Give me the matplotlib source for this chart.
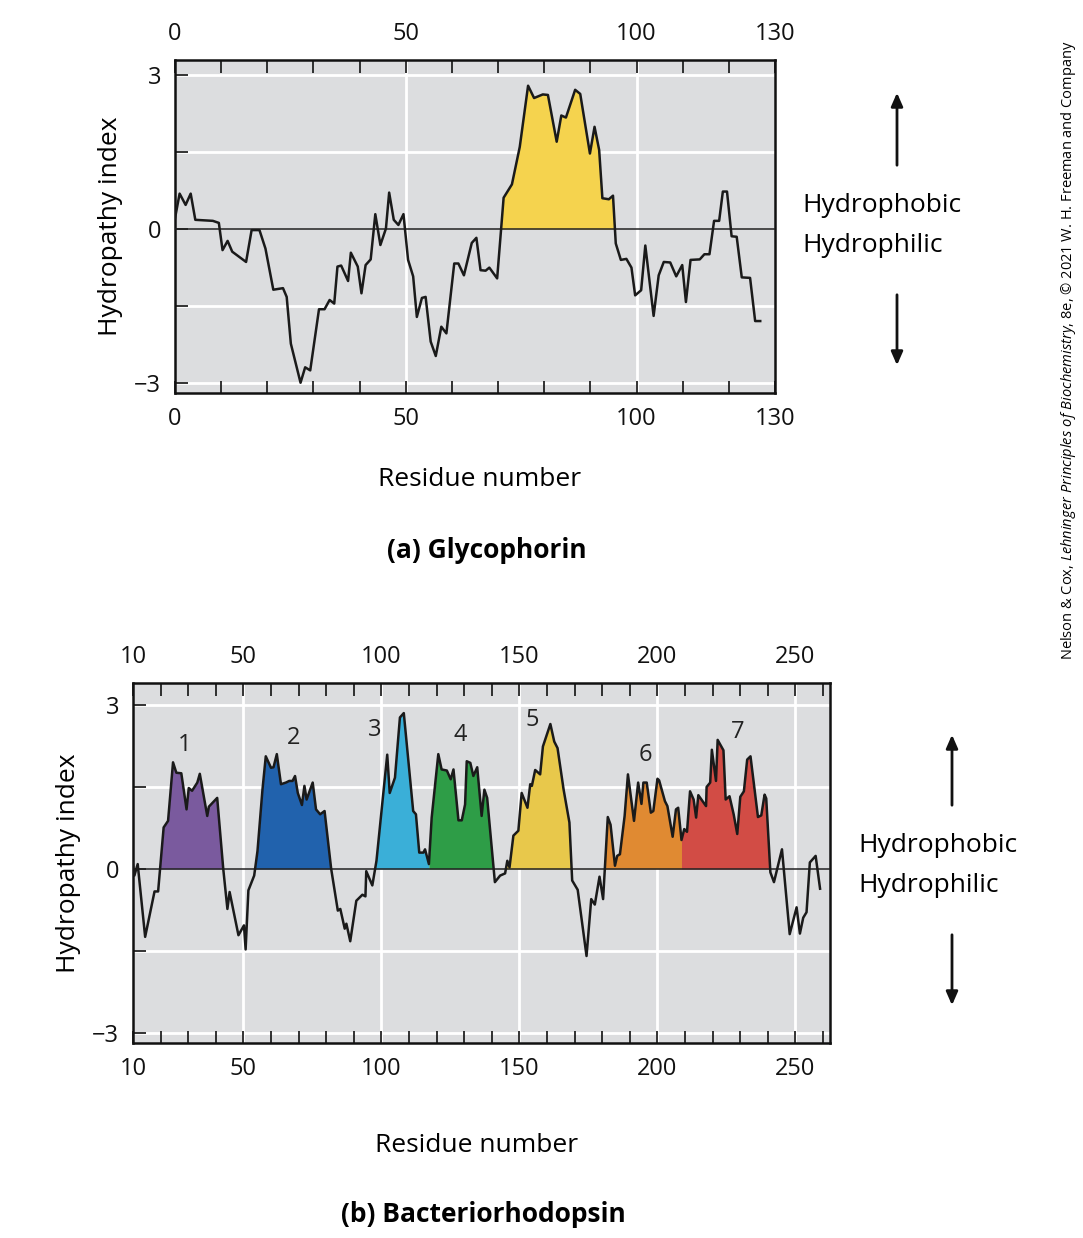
import numpy as np
import matplotlib
matplotlib.use("Agg")
import matplotlib.pyplot as plt
from matplotlib.ticker import MultipleLocator

plt.rcParams['font.family'] = ['Open Sans', 'DejaVu Sans']
plt.rcParams['mathtext.fontset'] = 'custom'
plt.rcParams['mathtext.it'] = 'Open Sans:italic'
plt.rcParams['mathtext.rm'] = 'Open Sans'

# glycophorin hydropathy profile
glyco_res = [0, 1.0, 2.3, 3.4, 4.4, 8.2, 9.5, 10.3, 11.4, 12.4, 15.4, 16.6, 18.3, 19.6, 21.3,
             23.4, 24.2, 25.1, 27.2, 28.2, 29.3, 31.2, 32.4, 33.5, 34.5, 35.2, 36.0, 37.5, 38.1,
             39.6, 40.4, 41.3, 42.4, 43.4, 44.5, 45.7, 46.4, 47.4, 48.4, 49.5, 50.5, 51.6, 52.4,
             53.5, 54.3, 55.4, 56.5, 57.7, 58.8, 60.5, 61.4, 62.6, 64.3, 65.3, 66.2, 67.3, 68.1,
             69.8, 71.2, 73.0, 74.7, 76.5, 77.8, 79.7, 80.8, 82.7, 83.7, 84.7, 86.7, 87.8, 89.9,
             90.9, 91.9, 92.6, 94.0, 94.9, 95.5, 96.6, 97.8, 98.9, 99.7, 101.0, 101.9, 103.7,
             104.8, 105.9, 107.3, 108.6, 109.9, 110.7, 111.7, 113.7, 114.7, 115.8, 116.8, 117.9,
             118.7, 119.6, 120.6, 121.7, 122.8, 124.6, 125.7, 126.8]
glyco_val = [0.21, 0.69, 0.47, 0.69, 0.18, 0.16, 0.12, -0.41, -0.23, -0.44, -0.64, -0.02, -0.02,
             -0.38, -1.18, -1.15, -1.32, -2.23, -2.99, -2.69, -2.75, -1.56, -1.56, -1.38, -1.45,
             -0.73, -0.71, -1.01, -0.46, -0.73, -1.25, -0.70, -0.59, 0.29, -0.31, 0.01, 0.71,
             0.18, 0.08, 0.29, -0.60, -0.92, -1.71, -1.34, -1.32, -2.19, -2.47, -1.90, -2.03,
             -0.67, -0.67, -0.90, -0.27, -0.17, -0.80, -0.81, -0.75, -0.96, 0.61, 0.87, 1.60,
             2.79, 2.55, 2.62, 2.61, 1.70, 2.21, 2.17, 2.71, 2.63, 1.47, 1.99, 1.54, 0.60, 0.58,
             0.65, -0.28, -0.60, -0.58, -0.75, -1.29, -1.19, -0.32, -1.69, -0.90, -0.64, -0.65,
             -0.92, -0.70, -1.42, -0.60, -0.59, -0.49, -0.49, 0.16, 0.16, 0.73, 0.73, -0.14,
             -0.15, -0.94, -0.95, -1.79, -1.79]
glyco_segment = (69, 96)

# bacteriorhodopsin hydropathy profile
br_res = [9.8, 10.5, 11.7, 14.4, 17.8, 19.1, 21.1, 22.7, 24.5, 25.7, 27.5, 29.4, 30.2, 31.4,
          33.3, 34.2, 36.9, 37.5, 40.5, 42.7, 44.2, 45.0, 48.2, 50.2, 50.8, 51.8, 53.9, 55.1,
          56.9, 58.1, 60.0, 60.9, 62.1, 63.6, 65.4, 66.6, 67.8, 68.7, 69.7, 71.2, 72.1, 72.9,
          75.1, 76.3, 77.8, 79.4, 81.8, 84.2, 85.1, 86.7, 87.3, 88.7, 90.9, 93.1, 94.2, 94.5,
          96.7, 98.2, 99.6, 102.1, 103.0, 104.9, 106.7, 108.1, 111.5, 112.5, 113.7, 115.2,
          115.8, 117.2, 118.2, 120.6, 121.8, 123.7, 125.1, 126.1, 127.9, 129.1, 130.3, 130.9,
          132.2, 133.3, 134.7, 136.3, 137.3, 138.3, 141.1, 143.0, 144.8, 145.6, 146.4, 147.8,
          149.6, 150.8, 152.9, 153.9, 154.5, 155.7, 157.5, 158.5, 161.2, 162.6, 163.8, 166.0,
          168.1, 169.1, 171.1, 174.3, 176.0, 177.3, 179.0, 180.3, 182.0, 183.0, 184.6, 185.4,
          186.4, 188.1, 189.3, 191.5, 193.0, 194.2, 194.9, 196.1, 197.6, 198.5, 200.0, 200.6,
          202.7, 203.6, 205.5, 206.7, 207.5, 208.7, 209.7, 210.7, 211.8, 213.1, 214.0, 214.8,
          217.6, 217.8, 219.1, 219.7, 221.2, 221.8, 223.9, 224.7, 226.1, 227.6, 228.9, 230.0,
          231.3, 232.5, 233.7, 236.4, 237.6, 238.8, 239.4, 240.9, 242.2, 245.1, 247.9, 250.4,
          251.6, 252.8, 254.0, 255.2, 257.3, 258.9]
br_val = [0.15, -0.12, 0.09, -1.24, -0.41, -0.41, 0.76, 0.88, 1.95, 1.76, 1.75, 1.09, 1.48,
          1.43, 1.58, 1.74, 0.97, 1.14, 1.30, 0.0, -0.73, -0.42, -1.21, -1.03, -1.47, -0.39,
          -0.12, 0.33, 1.45, 2.06, 1.85, 1.86, 2.10, 1.55, 1.58, 1.61, 1.61, 1.70, 1.39, 1.17,
          1.52, 1.27, 1.58, 1.09, 1.00, 1.06, 0.0, -0.76, -0.73, -1.09, -1.00, -1.32, -0.58,
          -0.47, -0.50, -0.04, -0.30, 0.15, 0.85, 2.09, 1.39, 1.67, 2.77, 2.85, 1.06, 1.00,
          0.30, 0.30, 0.36, 0.09, 0.94, 2.10, 1.82, 1.80, 1.64, 1.82, 0.89, 0.89, 1.18, 1.97,
          1.94, 1.70, 1.86, 0.97, 1.45, 1.30, -0.24, -0.12, -0.08, 0.15, 0.03, 0.61, 0.70, 1.39,
          1.12, 1.55, 1.52, 1.81, 1.73, 2.24, 2.65, 2.33, 2.21, 1.45, 0.85, -0.21, -0.38, -1.59,
          -0.55, -0.65, -0.14, -0.55, 0.95, 0.81, 0.06, 0.24, 0.27, 0.97, 1.73, 0.88, 1.58,
          1.19, 1.58, 1.58, 1.03, 1.06, 1.65, 1.62, 1.24, 1.15, 0.59, 1.09, 1.12, 0.53, 0.73,
          0.68, 1.42, 1.27, 0.94, 1.35, 1.15, 1.50, 1.58, 2.18, 1.61, 2.36, 2.17, 1.27, 1.33,
          1.00, 0.64, 1.32, 1.42, 2.00, 2.06, 0.95, 0.98, 1.36, 1.29, -0.06, -0.24, 0.36, -1.19,
          -0.70, -1.18, -0.89, -0.79, 0.12, 0.24, -0.36]
helix_names = ['1', '2', '3', '4', '5', '6', '7']
helix_ranges = [(19, 44), (53, 83), (97, 117.2), (117.2, 142), (145, 170), (181, 208.7), (208.7, 242)]
helix_colors = ['#7a5a9e', '#2162ad', '#3aafd8', '#2e9d47', '#e8c84b', '#e08a32', '#d24c45']
helix_label_pos = [(28.8, 2.27), (68, 2.4), (97.7, 2.54), (128.5, 2.45), (154.6, 2.73),
                   (195.5, 2.08), (229.2, 2.5)]

W, H = 1083, 1238
BG = '#dcdddf'
fig = plt.figure(figsize=(W / 100, H / 100), dpi=100)


def px(x, y):
    return x / W, 1 - y / H


def style_axes(ax, xmin, xmax, ymin, ymax, xticks, vgrid):
    ax.set_facecolor(BG)
    ax.set_xlim(xmin, xmax)
    ax.set_ylim(ymin, ymax)
    for yy in [3, 1.5, -1.5, -3]:
        ax.axhline(yy, color='white', lw=2, zorder=1)
    for xx in vgrid:
        ax.axvline(xx, color='white', lw=2, zorder=1)
    ax.axhline(0, color='#222222', lw=1.1, zorder=3)
    ax.set_xticks(xticks)
    ax.xaxis.set_minor_locator(MultipleLocator(10))
    ax.set_yticks([3, 1.5, 0, -1.5, -3])
    ax.set_yticklabels(['3', '', '0', '', '\u22123'])
    ax.tick_params(axis='both', which='both', direction='in', top=True, right=False,
                   labeltop=True, labelsize=17, length=9, width=1.2, colors='#111111', pad=10)
    for s in ax.spines.values():
        s.set_linewidth(1.8)
        s.set_color('#111111')


# ---- (a) Glycophorin
ax1 = fig.add_axes([175 / W, 1 - 393 / H, 600 / W, 333 / H])
style_axes(ax1, 0, 130, -3.19, 3.29, [0, 50, 100, 130], [50, 100])
gx = np.array(glyco_res)
gy = np.array(glyco_val)
ax1.fill_between(gx, gy, 0, where=(gx >= glyco_segment[0]) & (gx <= glyco_segment[1]) & (gy > 0),
                 interpolate=True, color='#f5d34e', zorder=2, lw=0)
ax1.plot(gx, gy, color='#1a1a1a', lw=1.8, zorder=4)
ax1.set_ylabel('Hydropathy index', fontsize=19, labelpad=8)

# ---- (b) Bacteriorhodopsin
ax2 = fig.add_axes([133 / W, 1 - 1043 / H, 697 / W, 360 / H])
style_axes(ax2, 10, 262.5, -3.18, 3.40, [10, 50, 100, 150, 200, 250], [50, 100, 150, 200, 250])
ax2.xaxis.set_minor_locator(matplotlib.ticker.FixedLocator(np.arange(20, 261, 10)))
bx = np.array(br_res)
by = np.array(br_val)
for (lo, hi), c in zip(helix_ranges, helix_colors):
    ax2.fill_between(bx, by, 0, where=(bx >= lo) & (bx <= hi) & (by > 0),
                     interpolate=True, color=c, zorder=2, lw=0)
ax2.plot(bx, by, color='#1a1a1a', lw=1.8, zorder=4)
for name, (lx, ly) in zip(helix_names, helix_label_pos):
    ax2.text(lx, ly, name, fontsize=17, ha='center', va='center', color='#222222', zorder=5)
ax2.set_ylabel('Hydropathy index', fontsize=19, labelpad=8)

# ---- labels, captions, arrows
fig.text(*px(480, 480), 'Residue number', fontsize=19, ha='center', va='center')
fig.text(*px(487, 550), '(a) Glycophorin', fontsize=19, fontweight='bold', ha='center', va='center')
fig.text(*px(477, 1145), 'Residue number', fontsize=19, ha='center', va='center')
fig.text(*px(483, 1215), '(b) Bacteriorhodopsin', fontsize=19, fontweight='bold', ha='center', va='center')

for xt, yt1, yt2, xa, up0, up1, dn0, dn1 in [(802, 205, 245, 897, 168, 90, 292, 368),
                                             (858, 845, 885, 952, 808, 732, 932, 1008)]:
    fig.text(*px(xt, yt1), 'Hydrophobic', fontsize=19, ha='left', va='center')
    fig.text(*px(xt, yt2), 'Hydrophilic', fontsize=19, ha='left', va='center')
    fig.add_artist(matplotlib.patches.FancyArrowPatch(px(xa, up0), px(xa, up1), transform=fig.transFigure,
                                                      arrowstyle='-|>,head_length=8,head_width=3.5',
                                                      color='#111111', lw=2))
    fig.add_artist(matplotlib.patches.FancyArrowPatch(px(xa, dn0), px(xa, dn1), transform=fig.transFigure,
                                                      arrowstyle='-|>,head_length=8,head_width=3.5',
                                                      color='#111111', lw=2))

fig.text(*px(1068, 350),
         r'Nelson & Cox, $\it{Lehninger\ Principles\ of\ Biochemistry}$, 8e, © 2021 W. H. Freeman and Company',
         fontsize=10.5, rotation=90, ha='center', va='center')

fig.savefig('out.png', dpi=100)
